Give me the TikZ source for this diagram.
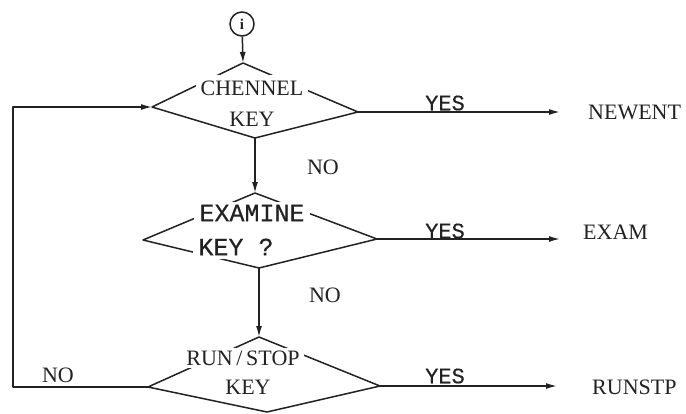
\documentclass[tikz,border=0pt]{standalone}
\usepackage{fontspec}
\setmainfont{Liberation Serif}
\newfontfamily\monofnt[FakeBold=0.4]{Liberation Mono}
\usetikzlibrary{arrows.meta}
\definecolor{ink}{HTML}{222222}
\begin{document}
\begin{tikzpicture}[x=1pt,y=-1pt,
  conn/.style={draw=ink,line width=1.5pt,line join=round},
  arr/.style={conn,-{Latex[length=11pt,width=6pt]}},
  lbl/.style={text=ink,font=\fontsize{22}{24}\selectfont,inner sep=0pt},
  mlbl/.style={text=ink,font=\monofnt\fontsize{25}{27}\selectfont,inner sep=0pt},
  ylbl/.style={text=ink,font=\monofnt\fontsize{22}{24}\selectfont,inner sep=0pt}]
\useasboundingbox (0,0) rectangle (686,413);
\fill[white] (0,0) rectangle (686,413);

% start connector circle
\node[draw=ink,line width=1.5pt,circle,minimum size=24pt,inner sep=0pt,text=ink,
      font=\bfseries\fontsize{15}{16}\selectfont] (circ) at (242,24) {i};

% diamond 1
\coordinate (d1l) at (152,107);
\coordinate (d1t) at (243,63);
\coordinate (d1r) at (358,112);
\coordinate (d1b) at (255,138);
\draw[conn] (d1l) -- (d1t) -- (d1r) -- (d1b) -- cycle;
\node[lbl,fill=white,inner xsep=5pt,inner ysep=6pt] (t1a) at (252,88) {CHENNEL};
\node[lbl] (t1b) at (252,119) {KEY};

% diamond 2
\coordinate (d2l) at (143,240);
\coordinate (d2t) at (255,193);
\coordinate (d2r) at (377,239);
\coordinate (d2b) at (259,268);
\draw[conn] (d2l) -- (d2t) -- (d2r) -- (d2b) -- cycle;
\node[mlbl,fill=white,inner xsep=5pt,inner ysep=3pt] (t2a) at (252,213) {EXAMINE};
\node[mlbl,fill=white,inner xsep=5pt,inner ysep=4pt] (t2b) at (236,247) {KEY ?};

% diamond 3
\coordinate (d3l) at (148,387);
\coordinate (d3t) at (259,337);
\coordinate (d3r) at (380,386);
\coordinate (d3b) at (267,412);
\draw[conn] (d3l) -- (d3t) -- (d3r) -- (d3b) -- cycle;
\node[lbl,fill=white,inner xsep=4pt,inner ysep=3pt] (t3a) at (243,358) {RUN\,/\,STOP};
\node[lbl] (t3b) at (248,387) {KEY};

% exits
\node[lbl,anchor=west] (newent) at (588,112) {NEWENT};
\node[lbl,anchor=west] (exam) at (583,232) {EXAM};
\node[lbl,anchor=west] (runstp) at (592,387) {RUNSTP};
\coordinate (e1) at (560,112);
\coordinate (e2) at (560,239);
\coordinate (e3) at (557,386);

% connectors
\draw[arr] (circ) -- (d1t);
\draw[arr] (d1b) -- (d2t);
\draw[arr] (d2b) -- (d3t);
\draw[arr] (d1r) -- (e1);
\draw[arr] (d2r) -- (e2);
\draw[arr] (d3r) -- (e3);
\draw[arr] (d3l) -- ++(-135,0) |- (d1l);

% labels
\node[ylbl] (y1) at (445,103) {YES};
\node[ylbl] (y2) at (445,231) {YES};
\node[ylbl] (y3) at (445,376) {YES};
\node[lbl] (n1) at (323,167) {NO};
\node[lbl] (n2) at (325,295) {NO};
\node[lbl] (n3) at (58,375) {NO};
\end{tikzpicture}
\end{document}
